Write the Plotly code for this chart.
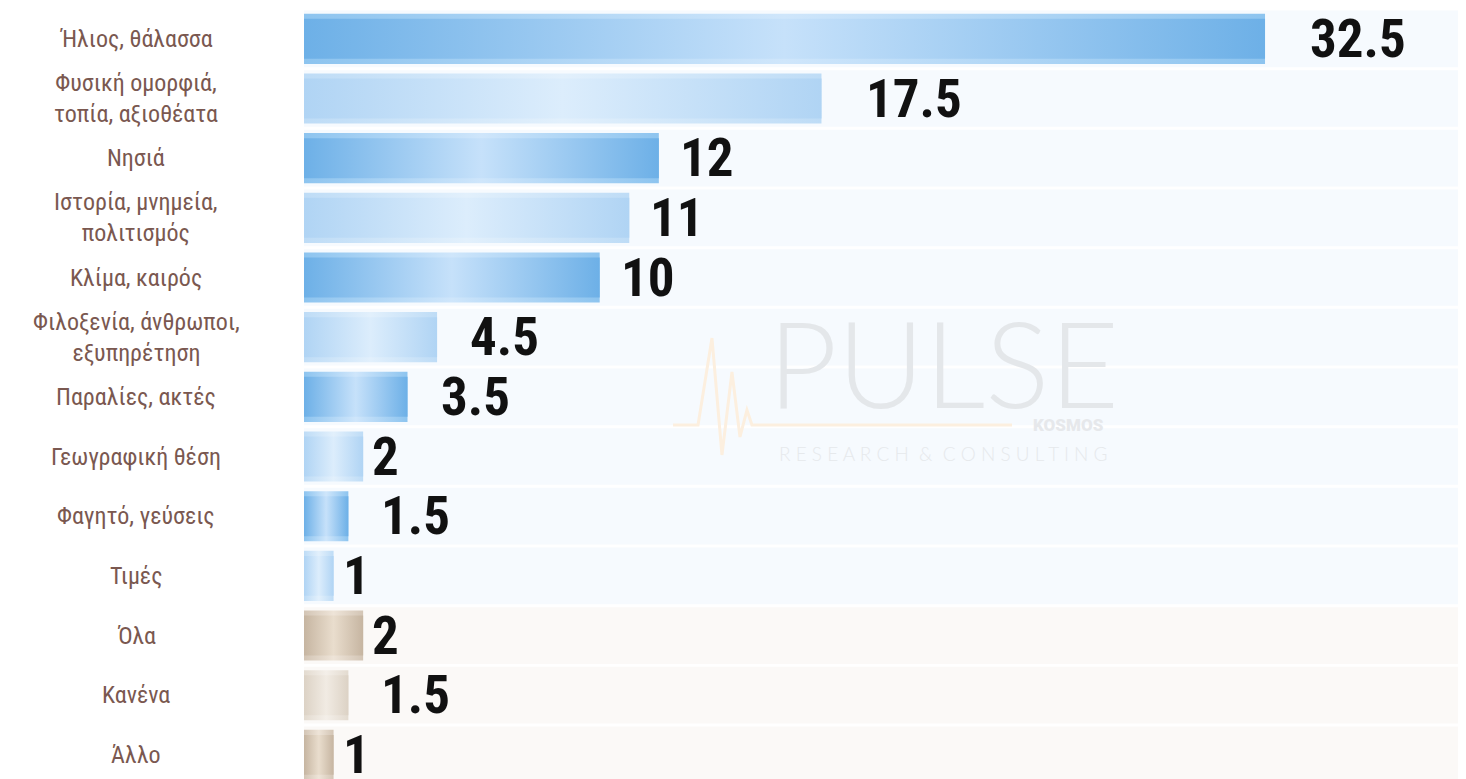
import plotly.graph_objects as go

categories = ["Ήλιος, θάλασσα", "Φυσική ομορφιά,<br>τοπία, αξιοθέατα", "Νησιά",
              "Ιστορία, μνημεία,<br>πολιτισμός", "Κλίμα, καιρός",
              "Φιλοξενία, άνθρωποι,<br>εξυπηρέτηση", "Παραλίες, ακτές",
              "Γεωγραφική θέση", "Φαγητό, γεύσεις", "Τιμές", "Όλα", "Κανένα", "Άλλο"]
values = [32.5, 17.5, 12, 11, 10, 4.5, 3.5, 2, 1.5, 1, 2, 1.5, 1]
value_labels = ["32.5", "17.5", "12", "11", "10", "4.5", "3.5", "2", "1.5", "1", "2", "1.5", "1"]
styles = ["blue", "blue_light", "blue", "blue_light", "blue", "blue_light", "blue",
          "blue_light", "blue", "blue_light", "beige", "beige_light", "beige"]

palette = {
    "blue": ("#6db0e7", "#c6e1fa", "#8dc4ef", "#cfe6fb", "#f6fafe"),
    "blue_light": ("#b0d4f4", "#dcedfc", "#bedcf6", "#e2f0fc", "#f6fafe"),
    "beige": ("#c6b5a1", "#e9ddcd", "#d3c5b5", "#eee4d8", "#fbf9f7"),
    "beige_light": ("#dcd2c5", "#f1ebe3", "#e3dbd0", "#f4efe9", "#fbf9f7"),
}

OFF = 8  # page body margin
W, H = 1466 - OFF, 779 - OFF
PL, PT = 304, 9  # plot-area top-left on the page
ML, MT = PL - OFF, PT - OFF
PW, PH = W - ML, H - MT


def px(x):
    return (x - PL) / PW


def py(y):
    return 1 - (y - PT) / PH


fig = go.Figure()
n = len(categories)

shapes = []
for i in range(n):
    shapes.append(dict(type="rect", xref="x domain", yref="y", x0=0, x1=1,
                       y0=i - 0.475, y1=i + 0.475, fillcolor=palette[styles[i]][4],
                       line=dict(width=0), layer="below"))

for i, (v, s) in enumerate(zip(values, styles)):
    c_edge, c_mid, o_edge, o_mid, _ = palette[s]
    for half, ce, cm in ((0.42, o_edge, o_mid), (0.335, c_edge, c_mid)):
        fig.add_trace(go.Scatter(
            x=[0, v, v, 0, 0], y=[i - half, i - half, i + half, i + half, i - half],
            mode="lines", fill="toself", line=dict(width=0, color=ce),
            fillgradient=dict(type="horizontal",
                              colorscale=[[0, ce], [0.5, cm], [1, ce]]),
            hoverinfo="skip", showlegend=False))

annotations = []
for i, (v, lab) in enumerate(zip(values, value_labels)):
    annotations.append(dict(x=v, y=i, xref="x", yref="y", text=lab, showarrow=False,
                            xanchor="left", yanchor="middle", xshift=12 * len(lab) - 5,
                            font=dict(family="Roboto Condensed, Roboto", size=53,
                                      color="#111111", weight="bold")))
for i, c in enumerate(categories):
    annotations.append(dict(x=0, y=i, xref="paper", yref="y", text=c, showarrow=False,
                            xanchor="center", yanchor="middle", align="center", xshift=-168,
                            font=dict(family="Roboto Condensed, Roboto", size=24,
                                      color="#7a5850")))

# watermark
annotations.append(dict(x=px(943), y=py(362), xref="paper", yref="paper", text="PULSE",
                        showarrow=False, xanchor="center", yanchor="middle",
                        font=dict(family="Lato", size=120, color="#e4e7ea", weight=300)))
annotations.append(dict(x=px(943), y=py(453), xref="paper", yref="paper",
                        text="R E S E A R C H  &amp;  C O N S U L T I N G",
                        showarrow=False, xanchor="center", yanchor="middle",
                        font=dict(family="Lato", size=19, color="#e6e9ec", weight=300)))
annotations.append(dict(x=px(1068), y=py(425), xref="paper", yref="paper", text="KOSMOS",
                        showarrow=False, xanchor="center", yanchor="middle",
                        font=dict(family="Roboto", size=17, color="#e6e8eb", weight=900)))

pts = [(673, 425), (698, 425), (712, 338), (722, 455), (732, 372), (740, 437),
       (747, 410), (752, 425), (1012, 425)]
path = "M " + " L ".join(f"{px(x):.4f},{py(y):.4f}" for x, y in pts)
shapes.append(dict(type="path", xref="paper", yref="paper", path=path,
                   line=dict(color="#fcefdf", width=3), layer="above"))

fig.update_layout(
    width=W, height=H,
    margin=dict(l=ML, r=0, t=MT, b=0),
    paper_bgcolor="white", plot_bgcolor="white",
    shapes=shapes, annotations=annotations,
    xaxis=dict(range=[0, PW / 29.57], visible=False, showgrid=False, zeroline=False),
    yaxis=dict(range=[PH / 59.67 - 0.5, -0.5], visible=False, showgrid=False, zeroline=False),
    showlegend=False,
)

fig.write_html("out.html")
